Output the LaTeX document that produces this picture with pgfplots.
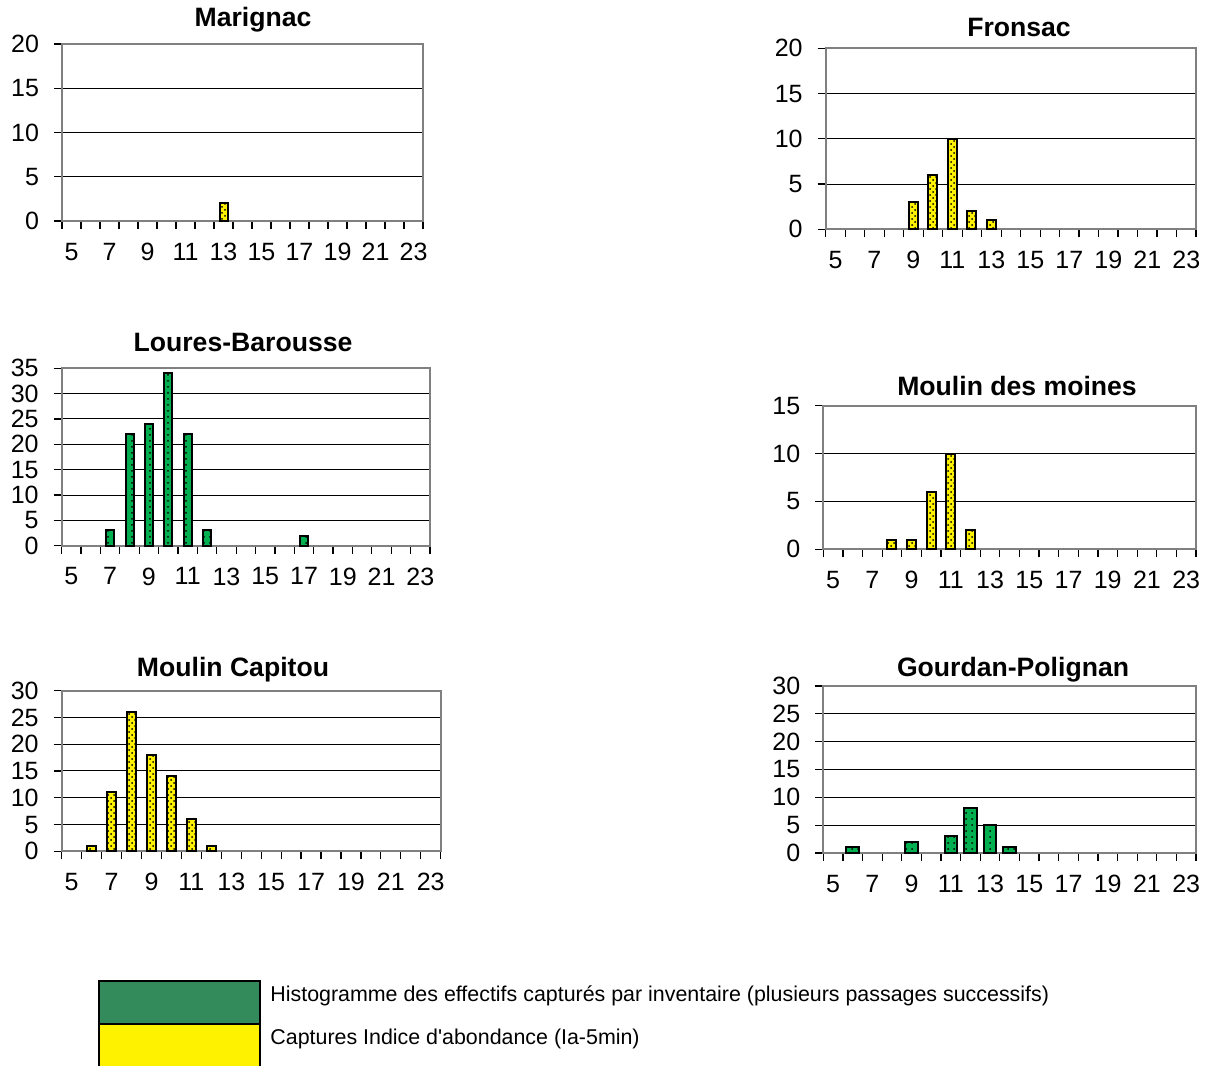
\documentclass[border=0pt]{standalone}
\usepackage{fontspec}
\setmainfont{Liberation Sans}
\newfontfamily\legfont{Liberation Sans}
\usepackage{pgfplots}
\pgfplotsset{compat=1.18}
\usetikzlibrary{patterns}
\definecolor{bargreen}{RGB}{0,176,80}
\definecolor{leggreen}{RGB}{51,138,90}
\definecolor{framegray}{RGB}{128,128,128}
\pgfplotsset{
 panel/.style={
  anchor=south west, scale only axis,
  xmin=4.5, xmax=23.5, ymin=0,
  xtick={5,7,...,23},
  minor xtick={4.5,5.5,...,23.5},
  major x tick style={draw=none},
  tick align=outside,
  major tick length=4pt, minor tick length=4pt,
  ymajorgrids, grid style={black, line width=0.5pt},
  axis line style={framegray, line width=1pt},
  tick style={black, line width=0.6pt},
  tick pos=left,
  ticklabel style={font=\fontsize{12.5}{14}\selectfont},
  xticklabel style={yshift=-3.5pt},
  yticklabel style={xshift=-4pt},
  /pgf/number format/assume math mode=true,
  ybar, bar shift=0pt,
  clip=false,
 },
 greenbar/.style={draw=black, line width=1pt, fill=bargreen, postaction={pattern=dots}},
 yellowbar/.style={draw=black, line width=1pt, fill=yellow, postaction={pattern=crosshatch dots}},
}
\newcommand{\ptitle}{\bfseries\fontsize{13.3}{16}\selectfont}
\begin{document}
\begin{tikzpicture}
\path[use as bounding box] (0,0) rectangle (604pt,532.5pt);

% Marignac
\begin{axis}[panel, at={(31pt,422pt)}, width=180.5pt, height=88.5pt,
  ymax=20, ytick={0,5,...,20}, bar width=4pt]
\addplot[yellowbar] coordinates {(13,2)};
\end{axis}

% Fronsac
\begin{axis}[panel, at={(412.85pt,417.85pt)}, width=185.15pt, height=90.5pt,
  ymax=20, ytick={0,5,...,20}, bar width=4.5pt]
\addplot[yellowbar] coordinates {(9,3) (10,6) (11,10) (12,2) (13,1)};
\end{axis}

% Loures-Barousse
\begin{axis}[panel, at={(30.85pt,259.65pt)}, width=184.15pt, height=88.7pt,
  ymax=35, ytick={0,5,...,35}, bar width=4pt]
\addplot[greenbar] coordinates {(7,3) (8,22) (9,24) (10,34) (11,22) (12,3) (17,2)};
\end{axis}

% Moulin des moines
\begin{axis}[panel, at={(411.65pt,257.85pt)}, width=186.35pt, height=71.8pt,
  ymax=15, ytick={0,5,...,15}, bar width=4.5pt]
\addplot[yellowbar] coordinates {(8,1) (9,1) (10,6) (11,10) (12,2)};
\end{axis}

% Moulin Capitou
\begin{axis}[panel, at={(30.85pt,106.85pt)}, width=189.5pt, height=80.3pt,
  ymax=30, ytick={0,5,...,30}, bar width=4.5pt]
\addplot[yellowbar] coordinates {(6,1) (7,11) (8,26) (9,18) (10,14) (11,6) (12,1)};
\end{axis}

% Gourdan-Polignan
\begin{axis}[panel, at={(411.65pt,106pt)}, width=186.35pt, height=83.5pt,
  ymax=30, ytick={0,5,...,30}, bar width=6.3pt]
\addplot[greenbar] coordinates {(6,1) (9,2) (11,3) (12,8) (13,5) (14,1)};
\end{axis}

% titles
\node[anchor=base] at (126.5pt,519pt) {\ptitle Marignac};
\node[anchor=base] at (509.5pt,514pt) {\ptitle Fronsac};
\node[anchor=base] at (121.5pt,356.5pt) {\ptitle Loures-Barousse};
\node[anchor=base] at (508.5pt,334.5pt) {\ptitle Moulin des moines};
\node[anchor=base] at (116.5pt,194pt) {\ptitle Moulin Capitou};
\node[anchor=base] at (506.5pt,194pt) {\ptitle Gourdan-Polignan};

% legend
\draw[black, line width=1pt, fill=leggreen] (49.5pt,20.5pt) rectangle (130pt,42pt);
\draw[black, line width=1pt, fill=yellow] (49.5pt,-1pt) rectangle (130pt,20.5pt);
\node[anchor=west, inner sep=0pt, font=\legfont\fontsize{10.7}{12}\selectfont] at (135pt,34.5pt) {Histogramme des effectifs capturés par inventaire (plusieurs passages successifs)};
\node[anchor=west, inner sep=0pt, font=\legfont\fontsize{10.7}{12}\selectfont] at (135pt,13pt) {Captures Indice d'abondance (Ia-5min)};
\end{tikzpicture}
\end{document}
